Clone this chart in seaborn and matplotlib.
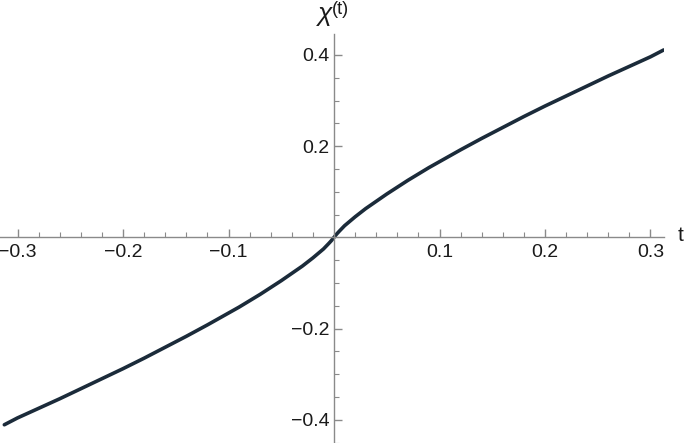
import matplotlib
matplotlib.use("Agg")
import matplotlib.pyplot as plt
import matplotlib.ticker as mticker
import pandas as pd
import seaborn as sns

# values (odd function, positive half mirrored)
t_pos = [0.0, 0.0025, 0.005, 0.01, 0.02, 0.03, 0.04, 0.05, 0.06, 0.07, 0.08,
         0.09, 0.10, 0.12, 0.14, 0.16, 0.18, 0.20, 0.22, 0.24, 0.26, 0.28,
         0.30, 0.3125]
chi_pos = [0.0, 0.0072, 0.0135, 0.0255, 0.045, 0.063, 0.079, 0.095, 0.110,
           0.125, 0.139, 0.153, 0.166, 0.192, 0.217, 0.241, 0.265, 0.288,
           0.310, 0.332, 0.354, 0.375, 0.396, 0.411]

t_vals = [-v for v in t_pos[:0:-1]] + t_pos
chi_vals = [-v for v in chi_pos[:0:-1]] + chi_pos

x_major = [-0.3, -0.2, -0.1, 0.1, 0.2, 0.3]
y_major = [-0.4, -0.2, 0.2, 0.4]

sns.set_style("white")
plt.rcParams["font.family"] = ["Liberation Sans", "DejaVu Sans"]

df = pd.DataFrame({"t": t_vals, "chi": chi_vals})

fig = plt.figure(figsize=(6.85, 4.43), dpi=100)
ax = fig.add_axes([0, 0, 664 / 685, 409 / 443])

sns.lineplot(data=df, x="t", y="chi", ax=ax, color="#1b2b3a", linewidth=2.6,
             estimator=None, sort=True)
ax.lines[0].set_solid_joinstyle("round")

ax.set_xlim(-0.3166, 0.3128)
ax.set_ylim(-0.451, 0.446)

axis_col = "#8a8a8a"
for side in ["top", "right"]:
    ax.spines[side].set_visible(False)
for side in ["left", "bottom"]:
    ax.spines[side].set_position(("data", 0))
    ax.spines[side].set_color(axis_col)
    ax.spines[side].set_linewidth(1.0)

ax.set_xticks(x_major)
ax.set_yticks(y_major)
ax.xaxis.set_minor_locator(mticker.MultipleLocator(0.02))
ax.yaxis.set_minor_locator(mticker.MultipleLocator(0.05))
fmt = mticker.FuncFormatter(lambda v, p: f"{v:.1f}".replace("-", "\u2212"))
ax.xaxis.set_major_formatter(fmt)
ax.yaxis.set_major_formatter(fmt)

ax.tick_params(which="both", direction="in", color=axis_col, labelsize=14,
               labelcolor="#1a1a1a", bottom=True, left=True)
ax.tick_params(which="major", length=6, width=1.0)
ax.tick_params(which="minor", length=3.5, width=0.8)
ax.tick_params(axis="x", which="major", pad=5)
ax.tick_params(axis="y", which="major", pad=3)

ax.set_xlabel("")
ax.set_ylabel("")

fig.text(325 / 685, 1 - 14 / 443, "\u03c7", fontsize=19, style="italic",
         ha="center", va="center", color="#1a1a1a")
fig.text(340 / 685, 1 - 10 / 443, "(t)", fontsize=13,
         ha="center", va="center", color="#1a1a1a")
fig.text(681 / 685, 1 - 236 / 443, "t", fontsize=15,
         ha="center", va="center", color="#1a1a1a")

fig.savefig("out.png", dpi=100)
